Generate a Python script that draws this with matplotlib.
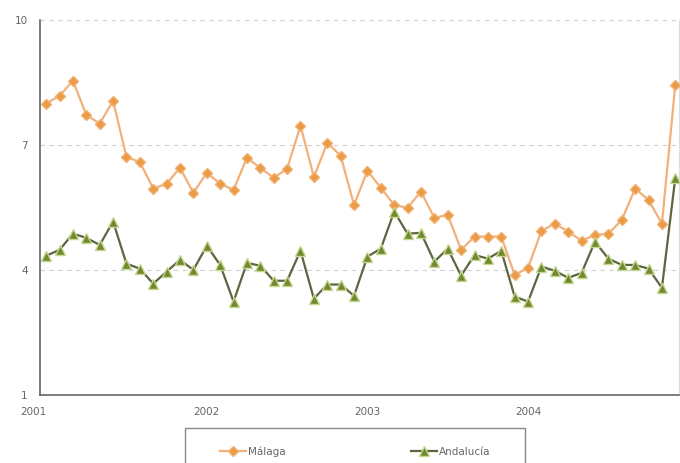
import numpy as np
import matplotlib.pyplot as plt
from matplotlib.patches import Rectangle

years = ["2001", "2002", "2003", "2004"]

malaga = [7.99, 8.18, 8.54, 7.72, 7.51, 8.06, 6.71, 6.59, 5.95, 6.07, 6.45, 5.85,
          6.33, 6.07, 5.92, 6.69, 6.45, 6.21, 6.43, 7.46, 6.23, 7.05, 6.74, 5.56,
          6.38, 5.97, 5.56, 5.49, 5.88, 5.25, 5.32, 4.48, 4.80, 4.80, 4.80, 3.88,
          4.05, 4.94, 5.11, 4.92, 4.70, 4.84, 4.87, 5.20, 5.95, 5.68, 5.11, 8.44]

andalucia = [4.34, 4.48, 4.87, 4.77, 4.60, 5.16, 4.15, 4.03, 3.67, 3.96, 4.24, 4.00,
             4.58, 4.12, 3.24, 4.17, 4.10, 3.74, 3.74, 4.46, 3.31, 3.65, 3.65, 3.38,
             4.32, 4.51, 5.40, 4.87, 4.89, 4.20, 4.51, 3.86, 4.36, 4.27, 4.46, 3.36,
             3.24, 4.08, 3.98, 3.81, 3.93, 4.68, 4.27, 4.12, 4.12, 4.03, 3.57, 6.21]

x = np.arange(len(malaga))

fig = plt.figure(figsize=(6.8, 4.63), dpi=100)
ax = fig.add_axes([0.059, 0.147, 0.94, 0.81])

ax.plot(x, malaga, '-', color='#f2b07a', lw=1.6, marker='D', ms=5.5,
        mfc='#eb9a45', mec='#f0b070', label='Málaga', zorder=3)
ax.plot(x, andalucia, '-', color='#5c6640', lw=1.6, marker='^', ms=7,
        mfc='#6f8a30', mec='#c8d690', label='Andalucía', zorder=3)

ax.set_ylim(1, 10)
ax.set_xlim(-0.45, 47.3)
ax.set_yticks([1, 4, 7, 10])
ax.set_yticklabels(["1", "4", "7", "10"])
ax.set_xticks([0, 12, 24, 36])
ax.set_xticklabels(years)
ax.get_xticklabels()[0].set_ha('right')

ax.tick_params(length=0, labelsize=7.5, labelcolor='#666666', pad=9)
ax.yaxis.grid(True, linestyle=(0, (4, 4)), color='#d0d0d0', lw=0.8)
ax.set_axisbelow(True)

for s in ["left", "bottom"]:
    ax.spines[s].set_color('#666666')
    ax.spines[s].set_linewidth(1.2)
ax.spines["right"].set_color('#dddddd')
ax.spines["right"].set_linewidth(0.8)
ax.spines["top"].set_visible(False)

# legend box, cut by the bottom edge as in the scan
fig.patches.append(Rectangle((185 / 680, -0.05), 340 / 680, 0.05 + 35 / 463,
                             transform=fig.transFigure, fill=False,
                             edgecolor='#888888', lw=1.0))
leg = fig.legend(loc='center', bbox_to_anchor=(0.522, 0.024), ncol=2,
                 fontsize=7.5, frameon=False, columnspacing=12,
                 handlelength=2.5, handletextpad=0.2)
for t in leg.get_texts():
    t.set_color('#666666')

fig.savefig("out.png", dpi=100)
